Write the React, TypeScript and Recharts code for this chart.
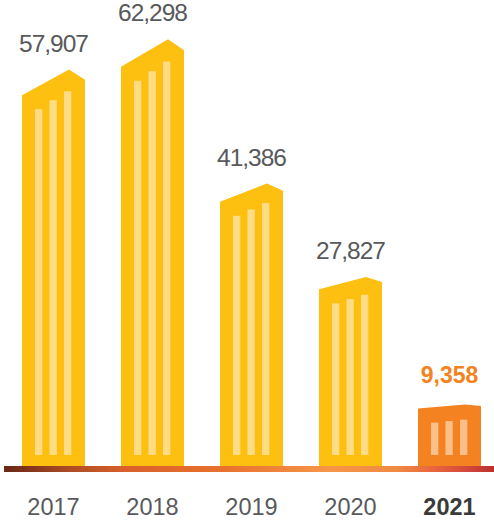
import { BarChart, Bar, XAxis, YAxis, LabelList } from "recharts";

const years = ["2017", "2018", "2019", "2020", "2021"];
const values = [57907, 62298, 41386, 27827, 9358];
const highlightYear = "2021";

const data = years.map((year, i) => ({ year, value: values[i] }));

const FONT = "'Liberation Sans', Arial, Helvetica, sans-serif";
const YELLOW = "#fdc010";
const YELLOW_STRIPE = "#fedc86";
const ORANGE = "#f58220";
const ORANGE_STRIPE = "#fbbf8c";

// building-shaped bar: sloped roof + three light windows
function BuildingBar(props: any) {
  const { x, y, width, height, payload } = props;
  if (!height || height <= 0) return null;
  const hot = payload.year === highlightYear;
  const bottom = y + height - 3;
  const rise = height * 0.064;
  const leftTop = y + rise;
  const rightTop = y + rise * 0.4;
  const peakX = x + (width * 47) / 63;
  const pts = [
    [x, bottom],
    [x, leftTop],
    [peakX, y],
    [x + width, rightTop],
    [x + width, bottom],
  ]
    .map((p) => p.join(","))
    .join(" ");
  const stripes = [0, 1, 2].map((i) => {
    const sx = x + 13 + i * 14.5;
    const top = leftTop + 14 - i * rise * 0.35;
    return (
      <rect
        key={i}
        x={sx}
        y={top}
        width={7.3}
        height={bottom - 11 - top}
        fill={hot ? ORANGE_STRIPE : YELLOW_STRIPE}
      />
    );
  });
  return (
    <g>
      <polygon points={pts} fill={hot ? ORANGE : YELLOW} />
      {stripes}
    </g>
  );
}

function ValueLabel(props: any) {
  const { x, y, width, value, index } = props;
  const hot = years[index] === highlightYear;
  return (
    <text
      x={x + width / 2}
      y={y - (hot ? 21 : 18)}
      textAnchor="middle"
      fontFamily={FONT}
      fontSize={hot ? 23 : 24.5}
      fontWeight={hot ? 700 : 400}
      letterSpacing={hot ? 0 : -1}
      fill={hot ? ORANGE : "#58595b"}
    >
      {Number(value).toLocaleString("en-US")}
    </text>
  );
}

function YearTick(props: any) {
  const { x, y, payload } = props;
  const hot = payload.value === highlightYear;
  return (
    <text
      x={x}
      y={y + 46}
      textAnchor="middle"
      fontFamily={FONT}
      fontSize={23.5}
      fontWeight={hot ? 700 : 400}
      fill={hot ? "#3a3a3a" : "#58595b"}
    >
      {payload.value}
    </text>
  );
}

export default function App() {
  return (
    <div
      style={{
        position: "absolute",
        left: 0,
        top: 0,
        width: 494,
        height: 522,
        overflow: "hidden",
        background: "#fff",
      }}
    >
      <BarChart
        width={500}
        height={522}
        data={data}
        margin={{ top: 0, right: 1, left: 4, bottom: 0 }}
      >
        <defs>
          <linearGradient id="baseGrad" gradientUnits="userSpaceOnUse" x1="7" y1="0" x2="494" y2="0">
            <stop offset="0%" stopColor="#6a2815" />
            <stop offset="12%" stopColor="#a94a24" />
            <stop offset="24%" stopColor="#d9602a" />
            <stop offset="45%" stopColor="#e9722f" />
            <stop offset="66%" stopColor="#f59647" />
            <stop offset="80%" stopColor="#f08a45" />
            <stop offset="88%" stopColor="#e8643c" />
            <stop offset="95%" stopColor="#d2453a" />
            <stop offset="100%" stopColor="#b83230" />
          </linearGradient>
        </defs>
        <XAxis
          dataKey="year"
          height={53}
          tickLine={false}
          tickSize={0}
          tickMargin={0}
          axisLine={{ stroke: "url(#baseGrad)", strokeWidth: 6 }}
          tick={<YearTick />}
          interval={0}
        />
        <YAxis hide domain={[0, 68000]} />
        <Bar
          dataKey="value"
          barSize={63}
          shape={<BuildingBar />}
          isAnimationActive={false}
        >
          <LabelList dataKey="value" content={<ValueLabel />} />
        </Bar>
      </BarChart>
    </div>
  );
}
